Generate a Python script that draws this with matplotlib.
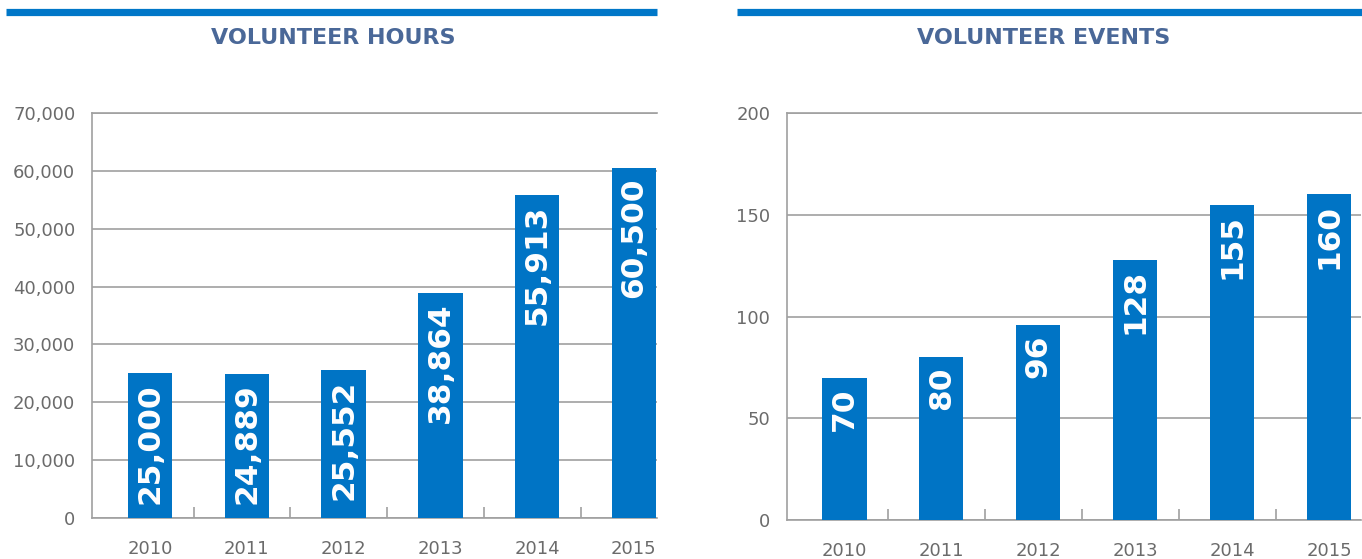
import matplotlib.pyplot as plt
from matplotlib.lines import Line2D
from matplotlib.ticker import FuncFormatter
import numpy as np

# data
YEARS = ["2010", "2011", "2012", "2013", "2014", "2015"]
HOURS = [25000, 24889, 25552, 38864, 55913, 60500]
EVENTS = [70, 80, 96, 128, 155, 160]

COLOR_BAR = "#0074C5"
COLOR_RULE = "#0077C8"
COLOR_TITLE = "#4A6898"
COLOR_GRID = "#A0A0A0"
COLOR_TICK = "#6B6B6B"

W, H = 1362, 559


def fx(px):
    return px / W


def fy(py):
    return 1 - py / H


def panel(fig, rect, values, ylim, step, title, rule, title_x, xlim, fmt):
    ax = fig.add_axes(rect)
    x = np.arange(len(values))
    ax.bar(x, values, width=0.46, color=COLOR_BAR, zorder=3)

    # value labels, rotated, hanging from the top of each bar
    for xi, v in zip(x, values):
        ax.annotate(fmt(v), xy=(xi, v), xytext=(0, -7), textcoords="offset points",
                    rotation=90, ha="center", va="top", color="white",
                    fontsize=22.5, fontweight="bold", zorder=4)

    ax.set_xlim(*xlim)
    ax.set_ylim(0, ylim)
    ax.set_yticks(np.arange(0, ylim + 1, step))
    ax.yaxis.set_major_formatter(FuncFormatter(lambda v, _: f"{int(v):,}"))
    ax.yaxis.grid(True, color=COLOR_GRID, linewidth=1.2, zorder=0)
    ax.set_xticks(x)
    ax.set_xticklabels(YEARS)
    ax.set_xticks(x[:-1] + 0.45, minor=True)
    ax.tick_params(axis="x", which="major", length=0, pad=16, labelsize=13, labelcolor=COLOR_TICK)
    ax.tick_params(axis="x", which="minor", direction="in", length=8, width=1.2, color=COLOR_GRID)
    ax.tick_params(axis="y", length=0, pad=12, labelsize=13, labelcolor=COLOR_TICK)
    for s in ["top", "left", "bottom"]:
        ax.spines[s].set_color(COLOR_GRID)
        ax.spines[s].set_linewidth(1.2)
    ax.spines["right"].set_visible(False)

    fig.add_artist(Line2D([fx(rule[0]), fx(rule[1])], [fy(11.5), fy(11.5)],
                          color=COLOR_RULE, linewidth=5.2, solid_capstyle="butt"))
    fig.text(fx(title_x), fy(38), title, ha="center", va="center",
             fontsize=16, fontweight="bold", color=COLOR_TITLE)
    return ax


fig = plt.figure(figsize=(W / 100, H / 100), dpi=100)
fig.patch.set_facecolor("white")

panel(fig, [fx(92), fy(518), fx(657 - 92), fy(113) - fy(518)],
      HOURS, 70000, 10000, "VOLUNTEER HOURS", (6, 657), 333,
      (-0.6, 5.24), lambda v: f"{v:,}")
panel(fig, [fx(787), fy(520), fx(1361 - 787), fy(113) - fy(520)],
      EVENTS, 200, 50, "VOLUNTEER EVENTS", (737, 1362), 1044,
      (-0.59, 5.33), lambda v: f"{v}")

fig.savefig("out.png", dpi=100, facecolor="white")
